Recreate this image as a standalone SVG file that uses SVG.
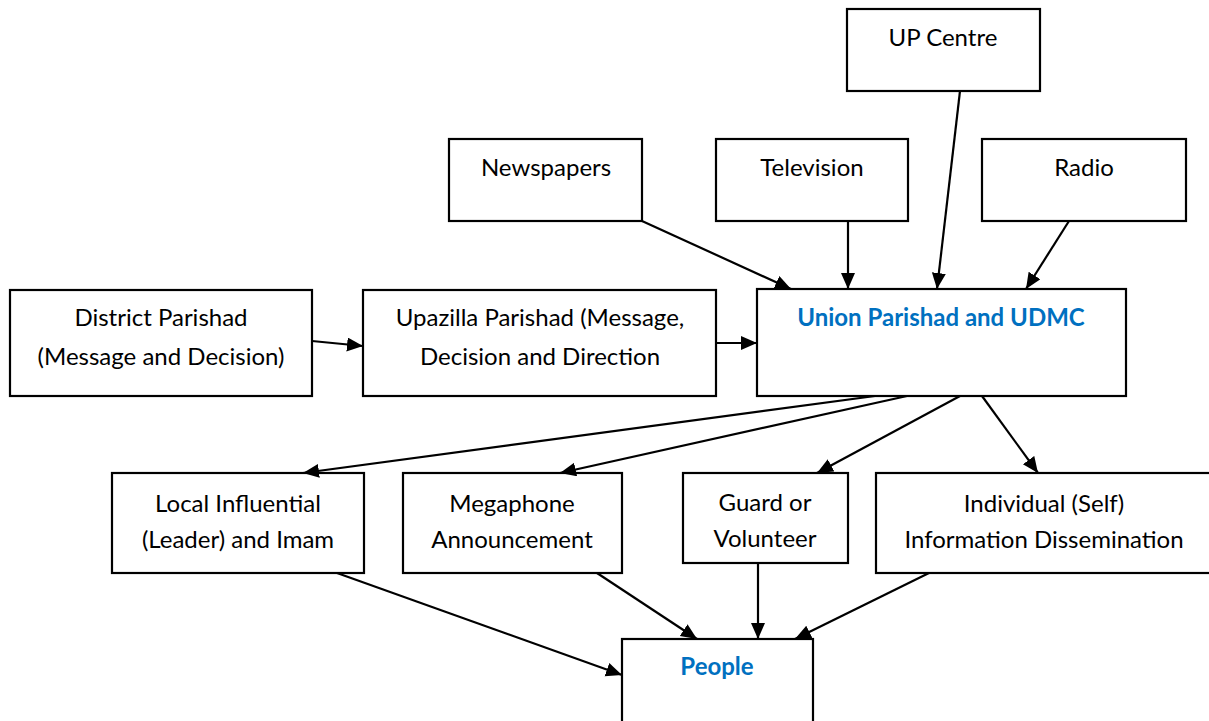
<svg xmlns="http://www.w3.org/2000/svg" width="1209" height="721" viewBox="0 0 1209 721">
<style>
rect{fill:#fff;stroke:#000;stroke-width:2.2}
text{font-family:Lato,"Liberation Sans",sans-serif;font-size:24px;fill:#000;text-anchor:middle}
text.b{font-weight:bold;fill:#0070C0}
line{stroke:#000;stroke-width:2.2}
</style>
<defs>
<marker id="ah" markerUnits="userSpaceOnUse" markerWidth="17" markerHeight="15" refX="16" refY="7" orient="auto">
<path d="M0,0 L16,7 L0,14 z" fill="#000"/>
</marker>
</defs>
<rect x="0" y="0" width="1209" height="721" style="stroke:none"/>
<g id="up-centre"><rect x="847" y="9" width="193" height="82"/><text x="943" y="46">UP Centre</text></g>
<g id="newspapers"><rect x="449" y="139" width="193" height="82"/><text x="546" y="176">Newspapers</text></g>
<g id="television"><rect x="716" y="139" width="192" height="82"/><text x="812" y="176">Television</text></g>
<g id="radio"><rect x="982" y="139" width="204" height="82"/><text x="1084" y="176">Radio</text></g>
<g id="district"><rect x="10" y="290" width="302" height="106"/><text x="161" y="326">District Parishad</text><text x="161" y="365">(Message and Decision)</text></g>
<g id="upazilla"><rect x="363" y="290" width="353" height="106"/><text x="540" y="326">Upazilla Parishad (Message,</text><text x="540" y="365">Decision and Direction</text></g>
<g id="union"><rect x="757" y="289" width="369" height="107"/><text class="b" x="941" y="326">Union Parishad and UDMC</text></g>
<g id="local"><rect x="112" y="473" width="252" height="100"/><text x="238" y="512">Local Influential</text><text x="238" y="548">(Leader) and Imam</text></g>
<g id="megaphone"><rect x="403" y="473" width="219" height="100"/><text x="512" y="512">Megaphone</text><text x="512" y="548">Announcement</text></g>
<g id="guard"><rect x="683" y="473" width="165" height="90"/><text x="765" y="511">Guard or</text><text x="765" y="547">Volunteer</text></g>
<g id="individual"><rect x="876" y="473" width="336" height="100"/><text x="1044" y="512">Individual (Self)</text><text x="1044" y="548">Information Dissemination</text></g>
<g id="people"><rect x="622" y="639" width="191" height="90"/><text class="b" x="717" y="675">People</text></g>
<g id="connectors">
<line x1="642" y1="221" x2="791" y2="289" marker-end="url(#ah)"/>
<line x1="848" y1="221" x2="848" y2="289" marker-end="url(#ah)"/>
<line x1="960" y1="91" x2="937" y2="289" marker-end="url(#ah)"/>
<line x1="1069" y1="221" x2="1026" y2="289" marker-end="url(#ah)"/>
<line x1="312" y1="341" x2="363" y2="346" marker-end="url(#ah)"/>
<line x1="716" y1="343" x2="757" y2="343" marker-end="url(#ah)"/>
<line x1="875" y1="396" x2="303" y2="473" marker-end="url(#ah)"/>
<line x1="907" y1="396" x2="560" y2="473" marker-end="url(#ah)"/>
<line x1="960" y1="396" x2="817" y2="473" marker-end="url(#ah)"/>
<line x1="982" y1="396" x2="1038" y2="473" marker-end="url(#ah)"/>
<line x1="337" y1="573" x2="622" y2="675" marker-end="url(#ah)"/>
<line x1="597" y1="573" x2="697" y2="639" marker-end="url(#ah)"/>
<line x1="758" y1="563" x2="758" y2="639" marker-end="url(#ah)"/>
<line x1="929" y1="573" x2="795" y2="639" marker-end="url(#ah)"/>
</g>
</svg>
